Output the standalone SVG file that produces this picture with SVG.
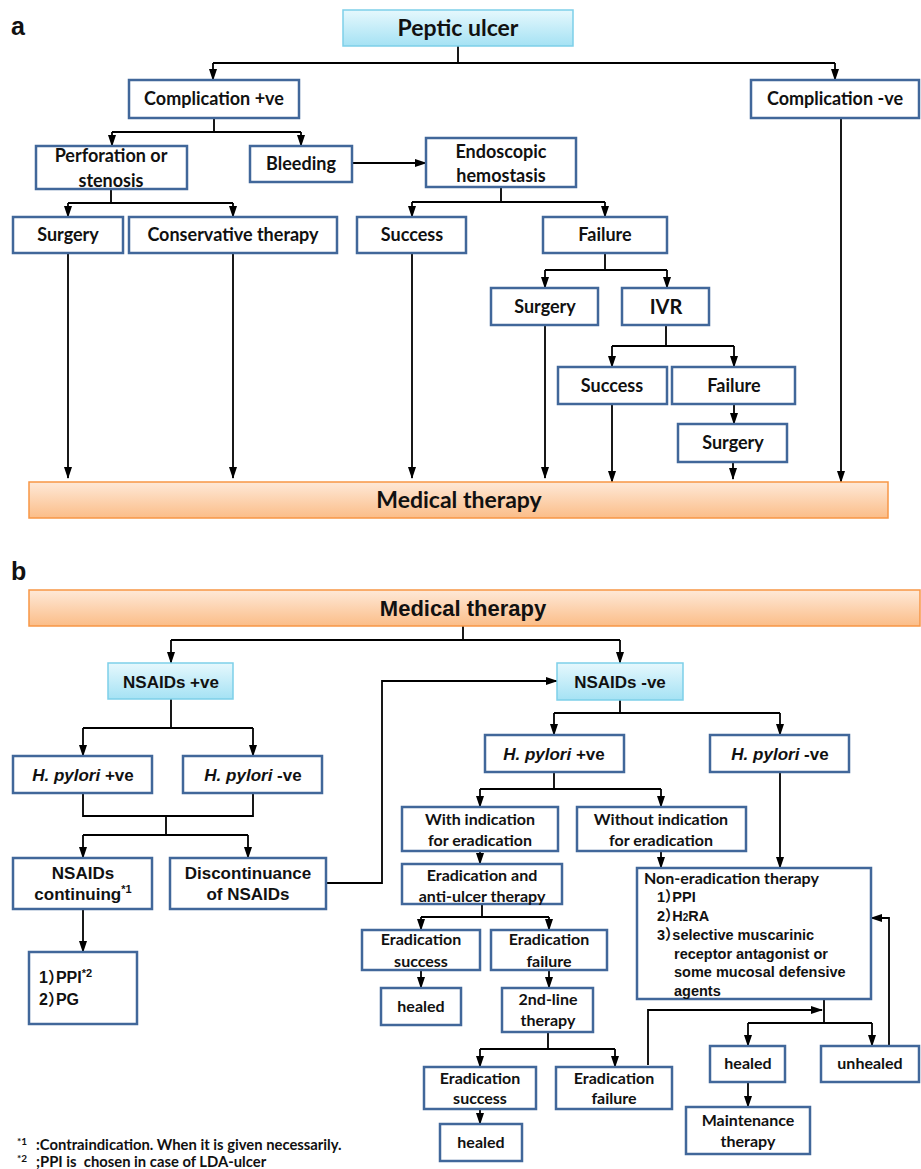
<svg xmlns="http://www.w3.org/2000/svg" width="921" height="1169" viewBox="0 0 921 1169">
<defs>
<linearGradient id="cyan" x1="0" y1="0" x2="0" y2="1"><stop offset="0" stop-color="#e6f8fd"/><stop offset="1" stop-color="#a5e2f4"/></linearGradient>
<linearGradient id="orange" x1="0" y1="0" x2="0" y2="1"><stop offset="0" stop-color="#fee9d8"/><stop offset="1" stop-color="#fbbd88"/></linearGradient>
<marker id="ar" markerUnits="userSpaceOnUse" markerWidth="12" markerHeight="8" viewBox="0 0 12 8" refX="11" refY="4" orient="auto"><path d="M0,0 L12,4 L0,8 z" fill="#000"/></marker>
<style>
.n{fill:#fff;stroke:#41679a;stroke-width:2.5}
.c{fill:url(#cyan);stroke:#7dcfe9;stroke-width:1.5}
.o{fill:url(#orange);stroke:#f79646;stroke-width:1.5}
.ta{font-family:Lato,"Liberation Sans",sans-serif;font-weight:bold;fill:#111;text-anchor:middle;font-size:18px}
.tb{font-family:"Liberation Sans",Arial,"Noto Sans CJK JP",sans-serif;font-weight:bold;fill:#111;text-anchor:middle;font-size:17px}
.l{text-anchor:start}
.h{font-feature-settings:"halt"}
.i{font-style:italic}
.cn path{fill:none;stroke:#000;stroke-width:1.8}
.cn .a{marker-end:url(#ar)}
.fn{font-family:Lato,"Liberation Sans",sans-serif;font-weight:bold;fill:#111;font-size:14.8px;white-space:pre}
.sup{font-size:10px}
.lab{font-family:"Liberation Sans",Arial,sans-serif;font-weight:bold;fill:#111;font-size:25px}
</style>
</defs>
<rect width="921" height="1169" fill="#fff"/>
<text class="lab" x="11" y="35">a</text>
<text class="lab" x="11" y="580">b</text>

<g class="cn" id="connectors">
<path d="M458,46 V63 M213,63 H835"/>
<path class="a" d="M213,63 V80"/><path class="a" d="M835,63 V80"/>
<path d="M214,118 V132 M112,132 H301"/>
<path class="a" d="M112,132 V146"/><path class="a" d="M301,132 V146"/>
<path class="a" d="M352,163 H426"/>
<path d="M111,189 V203 M68,203 H233"/>
<path class="a" d="M68,203 V217"/><path class="a" d="M233,203 V217"/>
<path d="M501,187 V202 M412,202 H605"/>
<path class="a" d="M412,202 V217"/><path class="a" d="M605,202 V217"/>
<path d="M605,253 V270 M545,270 H667"/>
<path class="a" d="M545,270 V288"/><path class="a" d="M667,270 V288"/>
<path d="M666,325 V346 M612,346 H734"/>
<path class="a" d="M612,346 V367"/><path class="a" d="M734,346 V367"/>
<path class="a" d="M734,404 V424"/>
<path class="a" d="M68,253 V478"/>
<path class="a" d="M233,253 V478"/>
<path class="a" d="M412,253 V478"/>
<path class="a" d="M545,325 V478"/>
<path class="a" d="M612,404 V482"/>
<path class="a" d="M733,462 V479"/>
<path class="a" d="M841,118 V482"/>

<path d="M463,626 V640 M171,640 H620"/>
<path class="a" d="M171,640 V663"/><path class="a" d="M620,640 V663"/>
<path d="M171,699 V728 M83,728 H253"/>
<path class="a" d="M83,728 V756"/><path class="a" d="M253,728 V756"/>
<path d="M83,793 V816 H253 V793 M166,816 V835 M83,835 H248"/>
<path class="a" d="M83,835 V858"/><path class="a" d="M248,835 V858"/>
<path class="a" d="M326,883 H382 V681 H557"/>
<path class="a" d="M83,909 V952"/>
<path d="M620,700 V713 M554,713 H780"/>
<path class="a" d="M554,713 V735"/><path class="a" d="M780,713 V735"/>
<path d="M554,772 V789 M480,789 H661"/>
<path class="a" d="M480,789 V807"/><path class="a" d="M661,789 V807"/>
<path class="a" d="M480,851 V864"/>
<path class="a" d="M661,851 V868"/>
<path class="a" d="M780,772 V868"/>
<path d="M482,904 V917 M421,917 H549"/>
<path class="a" d="M421,917 V930"/><path class="a" d="M549,917 V930"/>
<path class="a" d="M421,970 V988"/>
<path class="a" d="M549,970 V988"/>
<path d="M548,1032 V1049 M480,1049 H615"/>
<path class="a" d="M480,1049 V1067"/><path class="a" d="M615,1049 V1067"/>
<path class="a" d="M480,1109 V1124"/>
<path class="a" d="M648,1065 V1010 H822"/>
<path d="M824,999 V1023 M748,1023 H872"/>
<path class="a" d="M748,1023 V1046"/><path class="a" d="M872,1023 V1046"/>
<path class="a" d="M748,1082 V1107"/>
<path class="a" d="M889,1046 V918 H871"/>
</g>

<g id="peptic_ulcer"><rect class="c" x="343" y="10" width="230" height="36"/><text class="ta" x="458" y="36" style="font-size:23px">Peptic ulcer</text></g>
<g id="complication_pos"><rect class="n" x="129" y="80" width="170" height="38"/><text class="ta" x="214" y="105">Complication +ve</text></g>
<g id="complication_neg"><rect class="n" x="751" y="80" width="168" height="38"/><text class="ta" x="835" y="105">Complication -ve</text></g>
<g id="perforation"><rect class="n" x="36" y="146" width="151" height="43"/><text class="ta" x="111" y="162">Perforation or</text><text class="ta" x="111" y="187">stenosis</text></g>
<g id="bleeding"><rect class="n" x="250" y="146" width="102" height="36"/><text class="ta" x="301" y="170">Bleeding</text></g>
<g id="endoscopic"><rect class="n" x="426" y="138" width="150" height="49"/><text class="ta" x="501" y="158">Endoscopic</text><text class="ta" x="501" y="182">hemostasis</text></g>
<g id="surgery1"><rect class="n" x="13" y="217" width="110" height="36"/><text class="ta" x="68" y="241">Surgery</text></g>
<g id="conservative"><rect class="n" x="129" y="217" width="208" height="36"/><text class="ta" x="233" y="241">Conservative therapy</text></g>
<g id="success1"><rect class="n" x="357" y="217" width="109" height="36"/><text class="ta" x="412" y="241">Success</text></g>
<g id="failure1"><rect class="n" x="543" y="217" width="124" height="36"/><text class="ta" x="605" y="241">Failure</text></g>
<g id="surgery2"><rect class="n" x="491" y="288" width="107" height="37"/><text class="ta" x="545" y="313">Surgery</text></g>
<g id="ivr"><rect class="n" x="622" y="288" width="87" height="37"/><text class="ta" x="666" y="314" style="font-size:20px">IVR</text></g>
<g id="success2"><rect class="n" x="558" y="367" width="109" height="37"/><text class="ta" x="612" y="392">Success</text></g>
<g id="failure2"><rect class="n" x="672" y="367" width="123" height="37"/><text class="ta" x="734" y="392">Failure</text></g>
<g id="surgery3"><rect class="n" x="678" y="424" width="109" height="38"/><text class="ta" x="733" y="449">Surgery</text></g>
<g id="medical_a"><rect class="o" x="29" y="482" width="859" height="36"/><text class="ta" x="459" y="508" style="font-size:23px">Medical therapy</text></g>

<g id="medical_b"><rect class="o" x="29" y="590" width="891" height="36"/><text class="tb" x="463" y="616" style="font-size:22px">Medical therapy</text></g>
<g id="nsaids_pos"><rect class="c" x="108" y="663" width="125" height="36"/><text class="tb" x="171" y="688">NSAIDs +ve</text></g>
<g id="nsaids_neg"><rect class="c" x="557" y="663" width="126" height="37"/><text class="tb" x="620" y="688">NSAIDs -ve</text></g>
<g id="hp_pos_l"><rect class="n" x="13" y="756" width="139" height="37"/><text class="tb" x="83" y="781"><tspan class="i">H. pylori</tspan> +ve</text></g>
<g id="hp_neg_l"><rect class="n" x="183" y="756" width="139" height="37"/><text class="tb" x="253" y="781"><tspan class="i">H. pylori</tspan> -ve</text></g>
<g id="nsaids_cont"><rect class="n" x="13" y="858" width="139" height="51"/><text class="tb" x="83" y="879">NSAIDs</text><text class="tb" x="83" y="900">continuing<tspan dy="-7" style="font-size:11px">*1</tspan></text></g>
<g id="discont"><rect class="n" x="170" y="858" width="156" height="51"/><text class="tb" x="248" y="879">Discontinuance</text><text class="tb" x="248" y="900">of NSAIDs</text></g>
<g id="ppi"><rect class="n" x="29" y="952" width="108" height="72"/><text class="tb l h" x="39" y="983" style="font-size:16px">1）PPI<tspan dy="-6" style="font-size:11px">*2</tspan></text><text class="tb l h" x="39" y="1005" style="font-size:16px">2）PG</text></g>
<g id="hp_pos_r"><rect class="n" x="485" y="735" width="139" height="37"/><text class="tb" x="554" y="760"><tspan class="i">H. pylori</tspan> +ve</text></g>
<g id="hp_neg_r"><rect class="n" x="710" y="735" width="139" height="37"/><text class="tb" x="780" y="760"><tspan class="i">H. pylori</tspan> -ve</text></g>
<g id="with_ind"><rect class="n" x="402" y="807" width="156" height="44"/><text class="ta" x="480" y="825" style="font-size:16px">With indication</text><text class="ta" x="480" y="846" style="font-size:16px">for eradication</text></g>
<g id="without_ind"><rect class="n" x="577" y="807" width="169" height="44"/><text class="ta" x="661" y="825" style="font-size:16px">Without indication</text><text class="ta" x="661" y="846" style="font-size:16px">for eradication</text></g>
<g id="erad_anti"><rect class="n" x="402" y="864" width="160" height="40"/><text class="ta" x="482" y="881" style="font-size:16px">Eradication and</text><text class="ta" x="482" y="902" style="font-size:16px">anti-ulcer therapy</text></g>
<g id="non_erad"><rect class="n" x="637" y="868" width="234" height="131"/>
<text class="ta l" x="644" y="884" style="font-size:16px">Non-eradication therapy</text>
<text class="tb l h" x="657" y="902" style="font-size:14.5px">1）PPI</text>
<text class="tb l h" x="657" y="921" style="font-size:14.5px">2）H<tspan style="font-size:10px">2</tspan>RA</text>
<text class="tb l h" x="657" y="940" style="font-size:14.5px">3）selective muscarinic</text>
<text class="tb l" x="674" y="959" style="font-size:14.5px">receptor antagonist or</text>
<text class="tb l" x="674" y="977" style="font-size:14.5px">some mucosal defensive</text>
<text class="tb l" x="674" y="996" style="font-size:14.5px">agents</text></g>
<g id="erad_succ1"><rect class="n" x="362" y="930" width="118" height="40"/><text class="ta" x="421" y="945" style="font-size:16px">Eradication</text><text class="ta" x="421" y="967" style="font-size:16px">success</text></g>
<g id="erad_fail1"><rect class="n" x="491" y="930" width="116" height="40"/><text class="ta" x="549" y="945" style="font-size:16px">Eradication</text><text class="ta" x="549" y="967" style="font-size:16px">failure</text></g>
<g id="healed1"><rect class="n" x="381" y="988" width="80" height="37"/><text class="ta" x="421" y="1012" style="font-size:16px">healed</text></g>
<g id="second_line"><rect class="n" x="502" y="988" width="91" height="44"/><text class="ta" x="548" y="1005" style="font-size:16px">2nd-line</text><text class="ta" x="548" y="1026" style="font-size:16px">therapy</text></g>
<g id="erad_succ2"><rect class="n" x="424" y="1067" width="112" height="42"/><text class="ta" x="480" y="1084" style="font-size:16px">Eradication</text><text class="ta" x="480" y="1104" style="font-size:16px">success</text></g>
<g id="erad_fail2"><rect class="n" x="556" y="1067" width="116" height="42"/><text class="ta" x="614" y="1084" style="font-size:16px">Eradication</text><text class="ta" x="614" y="1104" style="font-size:16px">failure</text></g>
<g id="healed2"><rect class="n" x="440" y="1124" width="82" height="37"/><text class="ta" x="481" y="1148" style="font-size:16px">healed</text></g>
<g id="healed3"><rect class="n" x="710" y="1046" width="75" height="36"/><text class="ta" x="748" y="1069" style="font-size:16px">healed</text></g>
<g id="unhealed"><rect class="n" x="821" y="1046" width="98" height="36"/><text class="ta" x="870" y="1069" style="font-size:16px">unhealed</text></g>
<g id="maintenance"><rect class="n" x="686" y="1107" width="124" height="47"/><text class="ta" x="748" y="1126" style="font-size:16px">Maintenance</text><text class="ta" x="748" y="1147" style="font-size:16px">therapy</text></g>

<g id="footnotes">
<text class="fn" x="17" y="1150"><tspan class="sup" dy="-5">*1</tspan><tspan x="36" dy="5">:Contraindication. When it is given necessarily.</tspan></text>
<text class="fn" x="17" y="1167"><tspan class="sup" dy="-5">*2</tspan><tspan x="36" dy="5">;PPI is  chosen in case of LDA-ulcer</tspan></text>
</g>
</svg>
